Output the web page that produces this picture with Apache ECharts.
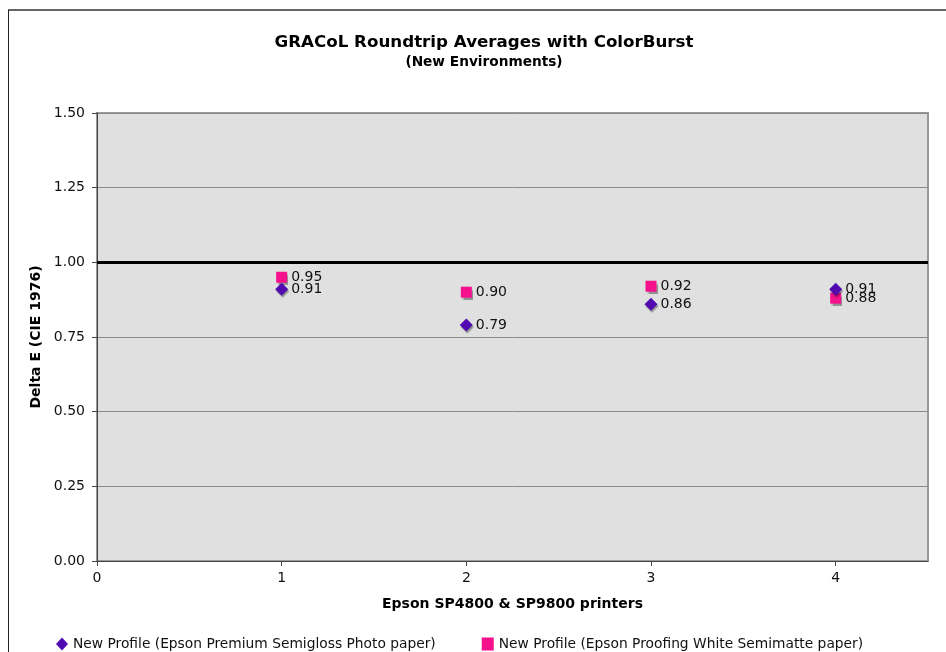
<!DOCTYPE html>
<html>
<head>
<meta charset="utf-8">
<script src="https://cdn.jsdelivr.net/npm/echarts@6/dist/echarts.min.js"></script>
<style>
  html, body { margin: 0; padding: 0; background: #fff; }
  #chart { width: 946px; height: 652px; }
</style>
</head>
<body>
<div id="chart"></div>
<script>
// 数据
var printers = [1, 2, 3, 4];
var semigloss = [0.91, 0.79, 0.86, 0.91];
var semimatte = [0.95, 0.90, 0.92, 0.88];
var xTicks = [0, 1, 2, 3, 4];
var seriesNames = [
    'New Profile (Epson Premium Semigloss Photo paper)',
    'New Profile (Epson Proofing White Semimatte paper)'
];

(function () {
    var myChart = echarts.init(document.getElementById('chart'));
    var font = 'DejaVu Sans, Verdana, sans-serif';

    function pairs(vals) {
        return printers.map(function (x, i) { return [x, vals[i]]; });
    }

    var markerShadow = {
        opacity: 1,
        shadowColor: 'rgba(0,0,0,0.35)',
        shadowBlur: 1,
        shadowOffsetX: 1,
        shadowOffsetY: 2
    };

    function valueLabel(dist) {
        return {
            show: true,
            position: 'right',
            distance: dist,
            fontFamily: font,
            fontSize: 14,
            color: '#111',
            formatter: function (p) { return p.value[1].toFixed(2); }
        };
    }

    var option = {
        animation: false,
        backgroundColor: '#fff',
        textStyle: { fontFamily: font },
        title: [
            {
                text: 'GRACoL Roundtrip Averages with ColorBurst',
                left: 479,
                top: 29,
                textAlign: 'center',
                textStyle: { fontFamily: font, fontSize: 16.7, fontWeight: 'bold', color: '#000' }
            },
            {
                text: '(New Environments)',
                left: 479,
                top: 50,
                textAlign: 'center',
                textStyle: { fontFamily: font, fontSize: 13.7, fontWeight: 'bold', color: '#000' }
            }
        ],
        // 外框
        graphic: [
            { type: 'line', shape: { x1: 8, y1: 10, x2: 946, y2: 10 }, style: { stroke: '#666', lineWidth: 2 } },
            { type: 'line', shape: { x1: 8.5, y1: 10, x2: 8.5, y2: 652 }, style: { stroke: '#222', lineWidth: 1 } }
        ],
        legend: {
            left: 51,
            top: 632,
            itemGap: 46,
            itemWidth: 12,
            itemHeight: 13,
            textStyle: { fontFamily: font, fontSize: 13.8, color: '#111' },
            data: [
                { name: seriesNames[0], icon: 'diamond' },
                { name: seriesNames[1], icon: 'rect' }
            ]
        },
        grid: {
            left: 97,
            right: 18,
            top: 113,
            bottom: 91,
            show: true,
            backgroundColor: '#e0e0e0',
            borderColor: '#999',
            borderWidth: 2
        },
        xAxis: {
            type: 'value',
            min: 0,
            max: 4.5,
            interval: 1,
            name: 'Epson SP4800 & SP9800 printers',
            nameLocation: 'middle',
            nameGap: 36,
            nameTextStyle: { fontFamily: font, fontSize: 14, fontWeight: 'bold', color: '#000' },
            axisLine: { onZero: false, lineStyle: { color: '#444', width: 1 } },
            axisTick: { length: 5, lineStyle: { color: '#444' }, customValues: xTicks },
            axisLabel: { fontFamily: font, fontSize: 14, color: '#111', margin: 10, customValues: xTicks },
            splitLine: { show: false }
        },
        yAxis: {
            type: 'value',
            min: 0,
            max: 1.5,
            interval: 0.25,
            name: 'Delta E (CIE 1976)',
            nameLocation: 'middle',
            nameGap: 52,
            nameTextStyle: { fontFamily: font, fontSize: 14, fontWeight: 'bold', color: '#000' },
            axisLine: { show: true, lineStyle: { color: '#444', width: 1 } },
            axisTick: { show: true, length: 5, lineStyle: { color: '#444' } },
            axisLabel: {
                fontFamily: font, fontSize: 14, color: '#111', margin: 12,
                formatter: function (v) { return v.toFixed(2); }
            },
            splitLine: { lineStyle: { color: '#8a8a8a', width: 1 } }
        },
        series: [
            {
                name: seriesNames[0],
                type: 'scatter',
                symbol: 'diamond',
                symbolSize: 13,
                data: pairs(semigloss),
                itemStyle: Object.assign({ color: '#500ab0' }, markerShadow),
                label: valueLabel(3),
                // 1.00 基准线
                markLine: {
                    silent: true,
                    symbol: 'none',
                    label: { show: false },
                    lineStyle: { color: '#000', width: 3, type: 'solid' },
                    data: [{ yAxis: 1 }]
                },
                z: 3
            },
            {
                name: seriesNames[1],
                type: 'scatter',
                symbol: 'rect',
                symbolSize: 11,
                data: pairs(semimatte),
                itemStyle: Object.assign({ color: '#f5108c' }, markerShadow),
                label: valueLabel(4),
                z: 2
            }
        ]
    };
    myChart.setOption(option);
    window.addEventListener('resize', function () {
        myChart.resize();
    });
})();
</script>
</body>
</html>
